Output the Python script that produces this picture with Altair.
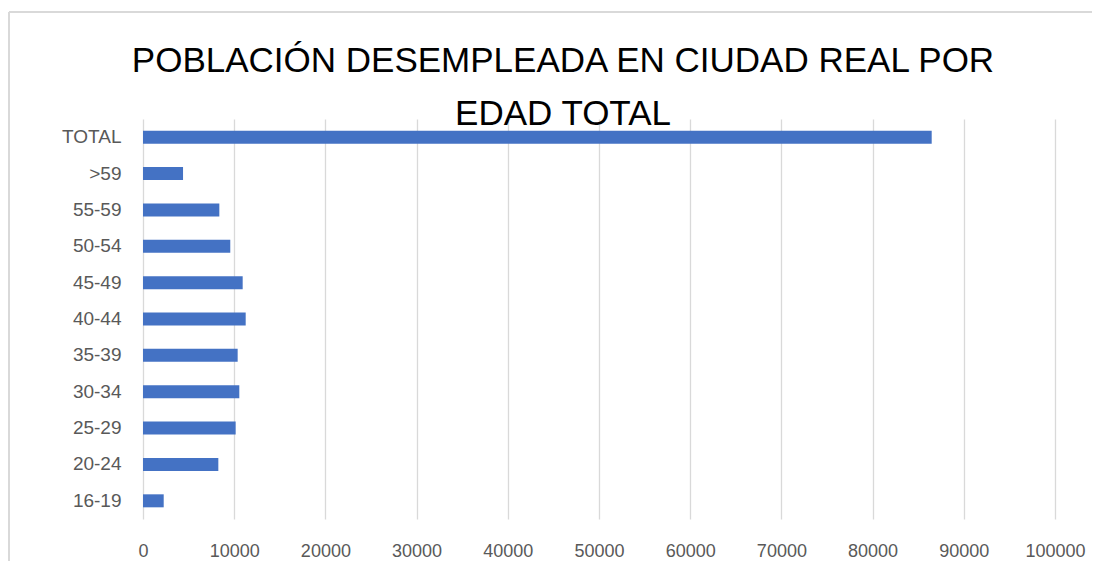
import altair as alt
import pandas as pd

categories = ["TOTAL", ">59", "55-59", "50-54", "45-49", "40-44",
              "35-39", "30-34", "25-29", "20-24", "16-19"]
values = [86480, 4390, 8370, 9570, 10930, 11260,
          10380, 10560, 10160, 8260, 2270]
x_ticks = [0, 10000, 20000, 30000, 40000, 50000, 60000, 70000, 80000, 90000, 100000]
title_lines = ["POBLACIÓN DESEMPLEADA EN CIUDAD REAL POR", "EDAD TOTAL"]

df = pd.DataFrame({"edad": categories, "valor": values})

FONT = "Liberation Sans"
LABEL = "#595959"
GRID = "#d9d9d9"

bars = alt.Chart(df).mark_bar(color="#4472C4", size=13).encode(
    x=alt.X("valor:Q",
            scale=alt.Scale(domain=[0, 100000], nice=False),
            axis=alt.Axis(values=x_ticks, title=None, grid=True, gridColor=GRID,
                          gridWidth=1.3, domain=False, ticks=False,
                          labelFont=FONT, labelFontSize=18, labelColor=LABEL,
                          labelPadding=23, format="d", labelFlush=False)),
    y=alt.Y("edad:N", sort=categories,
            scale=alt.Scale(paddingInner=0.64, paddingOuter=0.32),
            axis=alt.Axis(title=None, grid=False, domain=False, ticks=False,
                          labelFont=FONT, labelFontSize=19, labelColor=LABEL,
                          labelPadding=22)),
)

left_border = alt.Chart(df).mark_rule(color=GRID, strokeWidth=1.5).encode(
    x=alt.value(-134), y=alt.value(-107), y2=alt.value(460))
top_border = alt.Chart(df).mark_rule(color=GRID, strokeWidth=1.5).encode(
    x=alt.value(-134), x2=alt.value(1000), y=alt.value(-107))

chart = alt.layer(bars, left_border, top_border).properties(
    width=912,
    height=400,
    autosize=alt.AutoSizeParams(type="none"),
    padding={"left": 135, "top": 111, "right": 37, "bottom": 42},
    title=alt.TitleParams(text=title_lines, font=FONT, fontSize=35,
                          fontWeight="normal", color="#000000",
                          anchor="middle", frame="group", lineHeight=53,
                          offset=0, dx=-36, dy=121),
).configure_view(stroke=None)

chart.save("out.html", embed_options={"renderer": "svg", "actions": False})
